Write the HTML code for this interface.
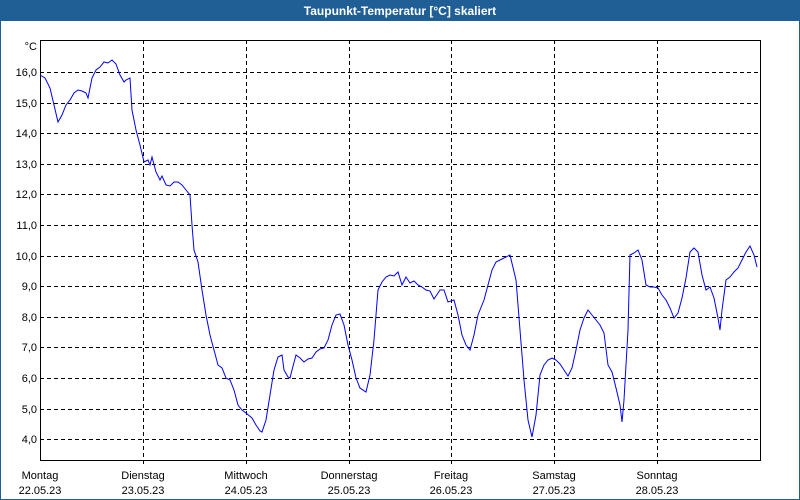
<!DOCTYPE html>
<html><head><meta charset="utf-8"><style>
html,body{margin:0;padding:0;background:#fff}
svg{display:block}
text{font-family:"Liberation Sans","DejaVu Sans",sans-serif;font-size:11px;fill:#000}
</style></head><body>
<svg width="800" height="500" viewBox="0 0 800 500" xmlns="http://www.w3.org/2000/svg">
<rect x="0" y="0" width="800" height="500" fill="#fff"/>
<rect x="0.5" y="0.5" width="799" height="499" fill="none" stroke="#1f5f96" stroke-width="1"/>
<rect x="0" y="0" width="800" height="21" fill="#1f5f96"/>
<text x="400" y="15" text-anchor="middle" style="font-weight:bold;fill:#fff;font-size:12px">Taupunkt-Temperatur [°C] skaliert</text>
<g stroke="#000" stroke-width="1" stroke-dasharray="4,3" fill="none">
<path d="M40 72.5H760M40 103.5H760M40 133.5H760M40 164.5H760M40 194.5H760M40 225.5H760M40 256.5H760M40 286.5H760M40 317.5H760M40 347.5H760M40 378.5H760M40 409.5H760M40 439.5H760"/>
<path d="M143.5 40V465M246.5 40V465M349.5 40V465M451.5 40V465M554.5 40V465M657.5 40V465"/>
</g>
<rect x="40.5" y="40.5" width="720" height="420" fill="none" stroke="#000" stroke-width="1"/>
<g text-anchor="end">
<text x="37" y="50">°C</text>
<text x="37" y="76">16,0</text><text x="37" y="107">15,0</text><text x="37" y="137">14,0</text>
<text x="37" y="168">13,0</text><text x="37" y="198">12,0</text><text x="37" y="229">11,0</text>
<text x="37" y="260">10,0</text><text x="37" y="290">9,0</text><text x="37" y="321">8,0</text>
<text x="37" y="351">7,0</text><text x="37" y="382">6,0</text><text x="37" y="413">5,0</text>
<text x="37" y="443">4,0</text>
</g>
<g text-anchor="middle">
<text x="40" y="479">Montag</text><text x="40" y="494">22.05.23</text>
<text x="143" y="479">Dienstag</text><text x="143" y="494">23.05.23</text>
<text x="246" y="479">Mittwoch</text><text x="246" y="494">24.05.23</text>
<text x="349" y="479">Donnerstag</text><text x="349" y="494">25.05.23</text>
<text x="451" y="479">Freitag</text><text x="451" y="494">26.05.23</text>
<text x="554" y="479">Samstag</text><text x="554" y="494">27.05.23</text>
<text x="657" y="479">Sonntag</text><text x="657" y="494">28.05.23</text>
</g>
<polyline fill="none" stroke="#0000ff" stroke-width="1" points="40,75 45,78 50,88 54,105 58,122 62,115 66,105 70,100 74,93 78,90 82,91 86,93 88,98 92,78 96,70 100,67 104,62 108,63 112,60 116,64 120,75 124,82 126,80 130,78 132,110 136,130 140,145 144,162 148,160 150,165 152,157 156,172 160,180 162,176 166,185 170,186 174,182 178,182 182,185 186,190 190,195 192,225 194,250 198,262 202,290 206,315 210,335 214,350 218,365 222,368 226,378 230,380 234,390 238,405 242,410 246,413 252,418 256,425 260,431 262,432 266,420 270,395 274,370 278,357 282,355 284,370 288,377 290,378 292,370 296,355 300,358 304,362 308,359 312,358 316,352 320,349 324,348 328,340 332,325 336,315 340,314 344,325 348,345 352,360 356,378 360,388 366,392 370,375 374,340 378,290 382,282 386,277 390,275 394,276 398,272 402,285 406,277 410,283 414,281 418,285 422,287 426,290 430,291 434,299 440,290 444,290 448,302 454,300 458,315 462,335 466,345 470,350 474,335 478,315 484,300 488,285 492,270 496,262 500,260 504,258 510,255 516,280 520,330 524,380 528,420 532,437 536,415 540,375 544,365 548,360 552,358 556,360 560,364 564,370 568,376 572,368 576,350 580,330 584,318 588,310 592,315 596,320 600,325 604,333 608,365 612,372 616,388 620,405 622,422 624,400 628,330 630,255 634,253 638,250 642,260 646,285 650,287 654,287 658,288 662,295 666,300 670,308 674,318 678,313 682,298 686,278 690,252 694,248 698,252 702,275 706,290 710,287 714,298 718,318 720,330 722,310 726,280 730,277 734,272 738,268 742,260 746,252 750,246 754,255 757,267"/>
</svg>
</body></html>
